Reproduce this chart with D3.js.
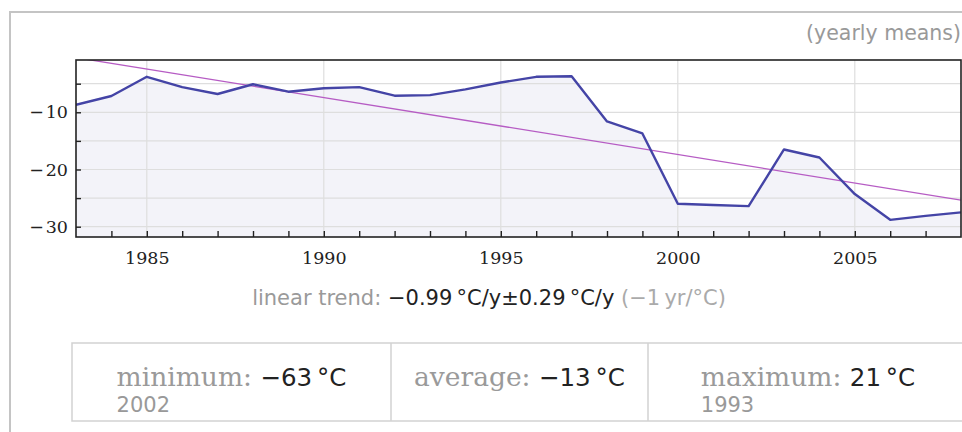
<!DOCTYPE html>
<html>
<head>
<meta charset="utf-8">
<script src="https://cdn.jsdelivr.net/npm/d3@7"></script>
<style>
body { margin: 0; background: #fff; }
</style>
</head>
<body>
<script>
var w = 962;
var h = 432;

// yearly mean temperatures (°C)
var years = [1983, 1984, 1985, 1986, 1987, 1988, 1989, 1990, 1991, 1992, 1993, 1994, 1995,
             1996, 1997, 1998, 1999, 2000, 2001, 2002, 2003, 2004, 2005, 2006, 2007, 2008];
var temps = [-8.7, -7.15, -3.8, -5.6, -6.8, -5.1, -6.4, -5.8, -5.6, -7.1, -7.0, -6.0, -4.8,
             -3.8, -3.7, -11.6, -13.7, -26.0, -26.2, -26.4, -16.5, -17.9, -24.3, -28.8, -28.1, -27.5];

// linear trend line end points
var trendYears = [1983, 2008];
var trendTemps = [-0.45, -25.35];

var yTicks = [-30, -25, -20, -15, -10, -5];
var yLabels = [-30, -20, -10];
var xLabels = [1985, 1990, 1995, 2000, 2005];

var statLabels = ["minimum:", "average:", "maximum:"];
var statValues = ["\u221263\u2009°C", "\u221213\u2009°C", "21\u2009°C"];
var statYears = ["2002", "", "1993"];

var svg = d3.select("body")
    .append("svg")
    .attr("width", w)
    .attr("height", h);

// outer panel border
svg.append("path")
    .attr("d", "M10,432 L10,12 L962,12")
    .attr("fill", "none")
    .attr("stroke", "#c4c4c4")
    .attr("stroke-width", 2);

svg.append("text")
    .text("(yearly means)")
    .attr("x", 961)
    .attr("y", 40)
    .attr("text-anchor", "end")
    .attr("font-family", "DejaVu Sans")
    .attr("font-size", "20.5px")
    .attr("fill", "#999");

var pLeft = 76, pRight = 961, pTop = 60, pBottom = 237;

var x = d3.scaleLinear().domain([1983, 2008]).range([pLeft, pRight]);
var y = d3.scaleLinear().domain([-31.8, -0.86]).range([pBottom, pTop]);

svg.append("clipPath")
    .attr("id", "plot")
    .append("rect")
    .attr("x", pLeft)
    .attr("y", pTop)
    .attr("width", pRight - pLeft)
    .attr("height", pBottom - pTop);

var pts = years.map(function(d, i) { return [d, temps[i]]; });

var area = d3.area()
    .x(function(d) { return x(d[0]); })
    .y0(pBottom)
    .y1(function(d) { return y(d[1]); });

svg.append("path")
    .datum(pts)
    .attr("d", area)
    .attr("fill", "#f3f3f9");

// grid
svg.selectAll("line.hgrid")
    .data(yTicks)
    .enter()
    .append("line")
    .attr("class", "hgrid")
    .attr("x1", pLeft)
    .attr("x2", pRight)
    .attr("y1", function(d) { return y(d); })
    .attr("y2", function(d) { return y(d); })
    .attr("stroke", "#dedede")
    .attr("stroke-width", 1.2);

svg.selectAll("line.vgrid")
    .data(xLabels)
    .enter()
    .append("line")
    .attr("class", "vgrid")
    .attr("x1", function(d) { return x(d); })
    .attr("x2", function(d) { return x(d); })
    .attr("y1", pTop)
    .attr("y2", pBottom)
    .attr("stroke", "#dedede")
    .attr("stroke-width", 1.2);

var line = d3.line()
    .x(function(d) { return x(d[0]); })
    .y(function(d) { return y(d[1]); });

svg.append("path")
    .datum(trendYears.map(function(d, i) { return [d, trendTemps[i]]; }))
    .attr("d", line)
    .attr("clip-path", "url(#plot)")
    .attr("fill", "none")
    .attr("stroke", "#b65cc4")
    .attr("stroke-width", 1.3);

svg.append("path")
    .datum(pts)
    .attr("d", line)
    .attr("clip-path", "url(#plot)")
    .attr("fill", "none")
    .attr("stroke", "#4444a6")
    .attr("stroke-width", 2.4)
    .attr("stroke-linejoin", "round");

// axes
var yAxis = d3.axisLeft(y)
    .tickValues(yTicks)
    .tickSize(-5)
    .tickPadding(8)
    .tickFormat(function(d) { return yLabels.indexOf(d) >= 0 ? "\u2212\u200a" + Math.abs(d) : ""; });

var gy = svg.append("g")
    .attr("transform", "translate(" + pLeft + ",0)")
    .call(yAxis);

var xAxis = d3.axisBottom(x)
    .tickValues(d3.range(1984, 2008))
    .tickSize(-6)
    .tickPadding(15)
    .tickFormat(function(d) { return xLabels.indexOf(d) >= 0 ? d : ""; });

var gx = svg.append("g")
    .attr("transform", "translate(0," + pBottom + ")")
    .call(xAxis);

[gx, gy].forEach(function(g) {
    g.select(".domain").remove();
    g.selectAll("line").attr("stroke", "#222").attr("stroke-width", 1.4);
    g.selectAll("text")
        .attr("font-family", "DejaVu Serif")
        .attr("font-size", "17.5px")
        .attr("fill", "#222");
});

svg.append("rect")
    .attr("x", pLeft)
    .attr("y", pTop)
    .attr("width", pRight - pLeft)
    .attr("height", pBottom - pTop)
    .attr("fill", "none")
    .attr("stroke", "#222")
    .attr("stroke-width", 1.6);

// trend caption
var cap = svg.append("text")
    .attr("x", 489)
    .attr("y", 305)
    .attr("text-anchor", "middle")
    .attr("font-family", "DejaVu Sans")
    .attr("font-size", "21px");
cap.append("tspan").text("linear trend: ").attr("fill", "#9a9a9a");
cap.append("tspan").text("\u22120.99\u2009°C/y±0.29\u2009°C/y").attr("fill", "#222");
cap.append("tspan").text(" (\u22121\u2009yr/°C)").attr("fill", "#aaa");

// stats table
var cells = [72, 391, 648, 968];
svg.append("rect")
    .attr("x", cells[0])
    .attr("y", 343)
    .attr("width", cells[3] - cells[0])
    .attr("height", 78)
    .attr("fill", "none")
    .attr("stroke", "#d2d2d2")
    .attr("stroke-width", 1.5);

svg.selectAll("line.div")
    .data(cells.slice(1, 3))
    .enter()
    .append("line")
    .attr("class", "div")
    .attr("x1", function(d) { return d; })
    .attr("x2", function(d) { return d; })
    .attr("y1", 343)
    .attr("y2", 421)
    .attr("stroke", "#d2d2d2")
    .attr("stroke-width", 1.5);

statLabels.forEach(function(lab, i) {
    var cx = (cells[i] + cells[i + 1]) / 2;
    var t = svg.append("text")
        .attr("x", cx)
        .attr("y", 386)
        .attr("text-anchor", "middle");
    t.append("tspan").text(lab + " ")
        .attr("font-family", "DejaVu Serif")
        .attr("font-size", "26.5px")
        .attr("fill", "#9a9a9a");
    t.append("tspan").text(statValues[i])
        .attr("font-family", "DejaVu Sans")
        .attr("font-size", "24.5px")
        .attr("fill", "#222");
    var bb = t.node().getBBox();
    if (statYears[i]) {
        svg.append("text")
            .text(statYears[i])
            .attr("x", bb.x)
            .attr("y", 412)
            .attr("font-family", "DejaVu Sans")
            .attr("font-size", "21px")
            .attr("fill", "#999");
    }
});
</script>
</body>
</html>
